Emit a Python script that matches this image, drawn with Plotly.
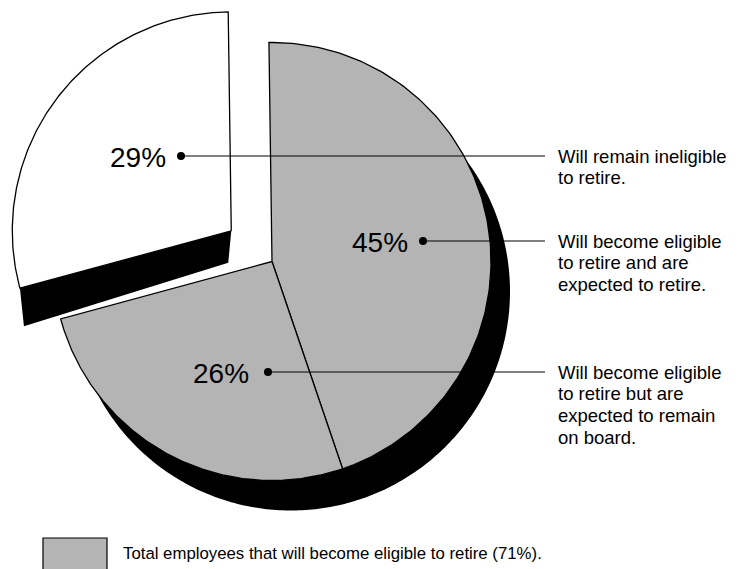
import numpy as np
import plotly.graph_objects as go

# ---------------- data ----------------
slice_labels = ["45%", "26%", "29%"]          # clockwise from 12 o'clock
slice_shares = [45, 26, 29]
slice_fill = ["#b4b4b4", "#b4b4b4", "#ffffff"]
slice_exploded = [False, False, True]
callout_lines = [
    ["Will become eligible", "to retire and are", "expected to retire."],
    ["Will become eligible", "to retire but are", "expected to remain", "on board."],
    ["Will remain ineligible", "to retire."],
]
legend_label = "Total employees that will become eligible to retire (71%)."

# ---------------- layout / style ----------------
W, H = 743, 569
PAGE_MARGIN = 8          # default body margin of the html page
CX, CY, R = 272.0, 261.5, 219.0
START_DEG = -0.8
PULL = 51.0
SHADOW = (19.0, 30.0)
BAND_OUT = (4.0, 38.0)
BAND_IN = (-3.0, 32.0)
DOTS = [(423, 241), (268, 372), (181, 156)]
PCT_GAP = [13, 17, 13]
LINE_END_X = 545
TEXT_X = 556
LINE_STEP = 21.7
FONT = "Liberation Sans, Arial, Helvetica, sans-serif"


def pt(cx, cy, r, deg):
    a = np.deg2rad(deg)
    return cx + r * np.sin(a), cy - r * np.cos(a)


def wedge(cx, cy, r, a0, a1, n=160):
    angs = np.linspace(a0, a1, n)
    xs = [cx] + [pt(cx, cy, r, a)[0] for a in angs] + [cx]
    ys = [cy] + [pt(cx, cy, r, a)[1] for a in angs] + [cy]
    return xs, ys


total = float(sum(slice_shares))
cum = np.concatenate([[0], np.cumsum(slice_shares)])
a_start = START_DEG + 360 * cum[:-1] / total
a_end = START_DEG + 360 * cum[1:] / total

centers = []
for i in range(len(slice_shares)):
    if slice_exploded[i]:
        mid = (a_start[i] + a_end[i]) / 2
        dx, dy = pt(0, 0, PULL, mid)
        centers.append((CX + dx, CY + dy))
    else:
        centers.append((CX, CY))

fig = go.Figure()

# shadow under the non-exploded part
keep = [i for i in range(len(slice_shares)) if not slice_exploded[i]]
xs, ys = wedge(CX + SHADOW[0], CY + SHADOW[1], R, a_start[keep[0]], a_end[keep[-1]], 300)
fig.add_trace(go.Scatter(x=xs, y=ys, fill="toself", fillcolor="black", mode="none",
                         hoverinfo="skip"))

# thickness band under the exploded slice
for i in range(len(slice_shares)):
    if slice_exploded[i]:
        cx, cy = centers[i]
        ex, ey = pt(cx, cy, R, a_start[i])
        bx = [cx, ex, ex + BAND_OUT[0], cx + BAND_IN[0], cx]
        by = [cy, ey, ey + BAND_OUT[1], cy + BAND_IN[1], cy]
        fig.add_trace(go.Scatter(x=bx, y=by, fill="toself", fillcolor="black", mode="none",
                                 hoverinfo="skip"))

# slices
for i in range(len(slice_shares)):
    cx, cy = centers[i]
    xs, ys = wedge(cx, cy, R, a_start[i], a_end[i])
    fig.add_trace(go.Scatter(x=xs, y=ys, fill="toself", fillcolor=slice_fill[i],
                             mode="lines", line=dict(color="black", width=1.3),
                             hoverinfo="skip"))

annotations = []
for i in range(len(slice_shares)):
    dx_, dy_ = DOTS[i]
    fig.add_trace(go.Scatter(x=[dx_, LINE_END_X], y=[dy_, dy_], mode="lines",
                             line=dict(color="black", width=1.2), hoverinfo="skip"))
    fig.add_trace(go.Scatter(x=[dx_], y=[dy_], mode="markers",
                             marker=dict(color="black", size=8), hoverinfo="skip"))
    annotations.append(dict(x=dx_ - PCT_GAP[i], y=dy_ + 1, text=slice_labels[i],
                            xanchor="right", yanchor="middle", showarrow=False,
                            font=dict(family=FONT, size=28, color="black")))
    for j, line in enumerate(callout_lines[i]):
        annotations.append(dict(x=TEXT_X, y=dy_ + j * LINE_STEP, text=line,
                                xanchor="left", yanchor="middle", showarrow=False,
                                font=dict(family=FONT, size=18.5, color="black")))

annotations.append(dict(x=121, y=553, text=legend_label, xanchor="left", yanchor="middle",
                        showarrow=False, font=dict(family=FONT, size=16.8, color="black")))

fig.add_shape(type="rect", x0=43, x1=107, y0=538, y1=600, fillcolor="#b4b4b4",
              line=dict(color="black", width=1.2))

fig.update_layout(
    width=W - PAGE_MARGIN, height=H - PAGE_MARGIN,
    margin=dict(l=0, r=0, t=0, b=0),
    paper_bgcolor="white", plot_bgcolor="white",
    showlegend=False,
    xaxis=dict(range=[PAGE_MARGIN, W], visible=False, fixedrange=True),
    yaxis=dict(range=[H, PAGE_MARGIN], visible=False, fixedrange=True),
    annotations=annotations,
)

fig.write_html("out.html")
